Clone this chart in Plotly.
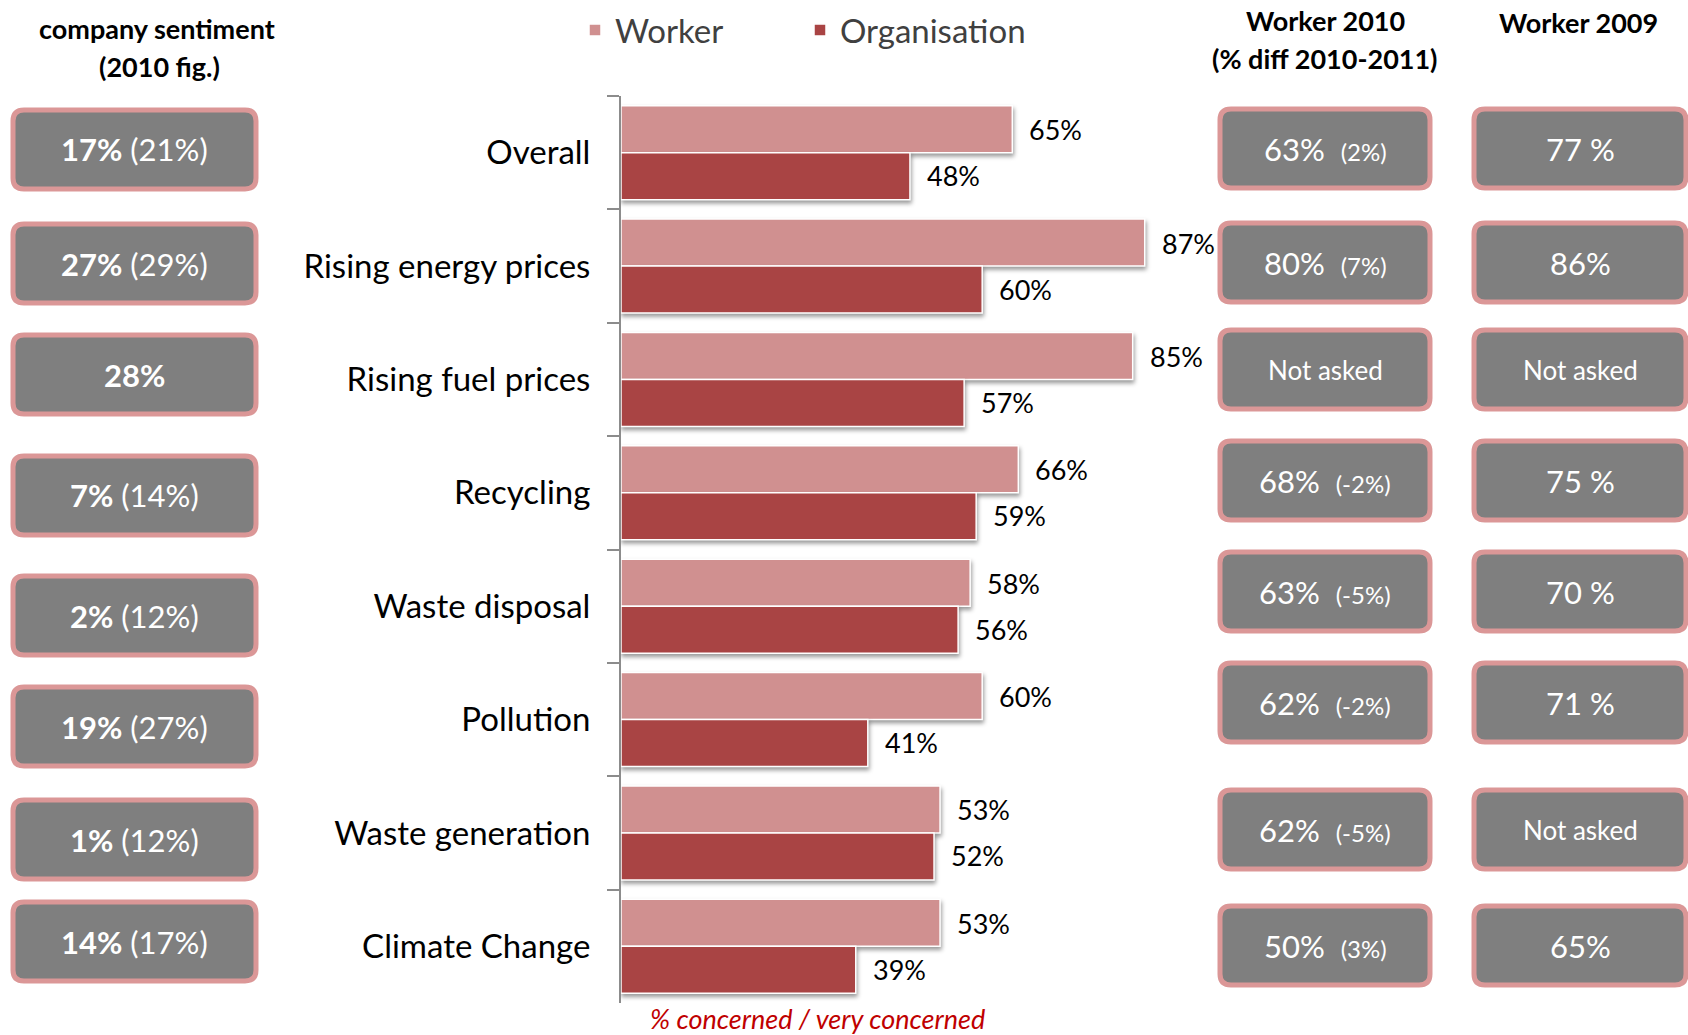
import plotly.graph_objects as go

categories = ["Overall", "Rising energy prices", "Rising fuel prices", "Recycling",
              "Waste disposal", "Pollution", "Waste generation", "Climate Change"]
worker = [65, 87, 85, 66, 58, 60, 53, 53]
organisation = [48, 60, 57, 59, 56, 41, 52, 39]
sentiment_now = ["17%", "27%", "28%", "7%", "2%", "19%", "1%", "14%"]
sentiment_2010 = ["21%", "29%", "", "14%", "12%", "27%", "12%", "17%"]
worker_2010 = ["63%", "80%", "Not asked", "68%", "63%", "62%", "62%", "50%"]
diff_2010 = ["2%", "7%", "", "-2%", "-5%", "-2%", "-5%", "3%"]
worker_2009 = ["77 %", "86%", "Not asked", "75 %", "70 %", "71 %", "Not asked", "65%"]

W, H = 1688, 1035
FONT = "Lato"
LIGHT, DARK = "#D09090", "#A94444"
GREY, EDGE = "#7F7F7F", "#DB9797"

left_tops = [110, 224, 335, 456, 576, 687, 800, 902]
mid_tops = [109, 223, 330, 441, 552, 663, 790, 906]
BOX_H = 79

px = lambda v: v / W
py = lambda v: 1 - v / H


def rounded(x0, y0, x1, y1, r=11):
    return (f"M{px(x0+r)},{py(y0)} L{px(x1-r)},{py(y0)} Q{px(x1)},{py(y0)} {px(x1)},{py(y0+r)} "
            f"L{px(x1)},{py(y1-r)} Q{px(x1)},{py(y1)} {px(x1-r)},{py(y1)} "
            f"L{px(x0+r)},{py(y1)} Q{px(x0)},{py(y1)} {px(x0)},{py(y1-r)} "
            f"L{px(x0)},{py(y0+r)} Q{px(x0)},{py(y0)} {px(x0+r)},{py(y0)} Z")


fig = go.Figure()
fig.add_bar(name="Worker", y=categories, x=worker, orientation="h",
            marker=dict(color=LIGHT, line=dict(color="#FFFFFF", width=1.5)))
fig.add_bar(name="Organisation", y=categories, x=organisation, orientation="h",
            marker=dict(color=DARK, line=dict(color="#FFFFFF", width=1.5)))

shapes, ann = [], []


def text(x, y, s, size, color="#000000", anchor="center", **kw):
    ann.append(dict(xref="paper", yref="paper", x=px(x), y=py(y), text=s, showarrow=False,
                    xanchor=anchor, yanchor="middle", font=dict(family=FONT, size=size, color=color), **kw))


def badge(x0, x1, top, label):
    shapes.append(dict(type="path", xref="paper", yref="paper", path=rounded(x0, top, x1, top + BOX_H),
                       fillcolor=GREY, line=dict(color=EDGE, width=5), layer="above"))
    text((x0 + x1) / 2, top + BOX_H / 2, label, 31, "#FFFFFF")


for i, cat in enumerate(categories):
    ann.append(dict(x=worker[i], y=cat, xref="x", yref="y", text=f"{worker[i]}%", showarrow=False,
                    xanchor="left", xshift=15, yshift=23, font=dict(family=FONT, size=27, color="#000")))
    ann.append(dict(x=organisation[i], y=cat, xref="x", yref="y", text=f"{organisation[i]}%", showarrow=False,
                    xanchor="left", xshift=15, yshift=-23, font=dict(family=FONT, size=27, color="#000")))
    s = f"<b>{sentiment_now[i]}</b>" + (f" ({sentiment_2010[i]})" if sentiment_2010[i] else "")
    badge(13, 256, left_tops[i], s)
    if diff_2010[i]:
        m = f"{worker_2010[i]}  <span style='font-size:24px'>({diff_2010[i]})</span>"
    else:
        m = f"<span style='font-size:26px'>{worker_2010[i]}</span>"
    badge(1220, 1430, mid_tops[i], m)
    r = worker_2009[i]
    r = f"<span style='font-size:26px'>{r}</span>" if r == "Not asked" else r
    badge(1474, 1686, mid_tops[i], r)

text(157, 28, "<b>company sentiment</b>", 27)
text(159, 66, "<b>(2010 fig.)</b>", 27)
text(1325, 21, "<b>Worker 2010</b>", 27)
text(1325, 59, "<b>(% diff 2010-2011)</b>", 27)
text(1578, 22, "<b>Worker 2009</b>", 27)
text(817, 1018, "<i>% concerned / very concerned</i>", 27, "#C00000")

fig.update_layout(
    width=W, height=H, margin=dict(l=0, r=0, t=0, b=0),
    paper_bgcolor="#FFFFFF", plot_bgcolor="#FFFFFF",
    barmode="group", bargap=0.17, bargroupgap=0.0,
    font=dict(family=FONT, color="#000000"),
    xaxis=dict(domain=[621 / W, 1], range=[0, (W - 621) / 6.02], visible=False),
    yaxis=dict(domain=[1 - 1003 / H, 1 - 96 / H], autorange="reversed", type="category",
               showline=True, linecolor="#8C8C8C", linewidth=2, ticks="outside", ticklen=12,
               tickcolor="#8C8C8C", tickwidth=2, tickson="boundaries", ticklabelstandoff=22,
               tickfont=dict(family=FONT, size=33, color="#000000"), showgrid=False),
    legend=dict(orientation="h", x=575 / W, y=1 - 2 / H, xanchor="left", yanchor="top",
                font=dict(family=FONT, size=33, color="#404040"), bgcolor="rgba(0,0,0,0)",
                itemwidth=30, entrywidth=180, entrywidthmode="pixels"),
    shapes=shapes, annotations=ann,
)

post = """
var st=document.createElement('style');
st.textContent="body{margin:0;overflow:hidden}.bars .point path{filter:drop-shadow(1px 3px 2px rgba(0,0,0,.4))}.legendbar path{transform:scale(1.45)}";
document.head.appendChild(st);
"""
fig.write_html("out.html", post_script=post, config=dict(displayModeBar=False))
